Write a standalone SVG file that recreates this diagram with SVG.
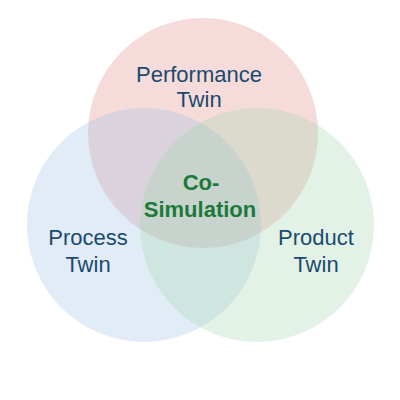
<svg xmlns="http://www.w3.org/2000/svg" width="400" height="400" viewBox="0 0 400 400">
<style>
.c{fill-opacity:0.3;stroke:none}
.t{font-family:"Liberation Sans",Arial,sans-serif;font-size:22px;fill:#1b4a6e;text-anchor:middle}
.s{font-family:"Liberation Sans",Arial,sans-serif;font-size:22px;font-weight:bold;fill:#1a7a3a;text-anchor:middle}
</style>
<rect width="400" height="400" fill="#ffffff"/>
<g id="performance">
<circle class="c" cx="203" cy="133" r="115" fill="#de8a87"/>
<text class="t" x="199" y="82">Performance</text>
<text class="t" x="199" y="107">Twin</text>
</g>
<g id="process">
<circle class="c" cx="144" cy="225" r="117" fill="#9bc0e1"/>
<text class="t" x="88" y="245">Process</text>
<text class="t" x="88" y="272">Twin</text>
</g>
<g id="product">
<circle class="c" cx="257" cy="225" r="117" fill="#a2d4ac"/>
<text class="t" x="316" y="245">Product</text>
<text class="t" x="316" y="272">Twin</text>
</g>
<g id="cosimulation">
<text class="s" x="201" y="190">Co-</text>
<text class="s" x="200" y="217">Simulation</text>
</g>
<g id="connectors"/>
</svg>
